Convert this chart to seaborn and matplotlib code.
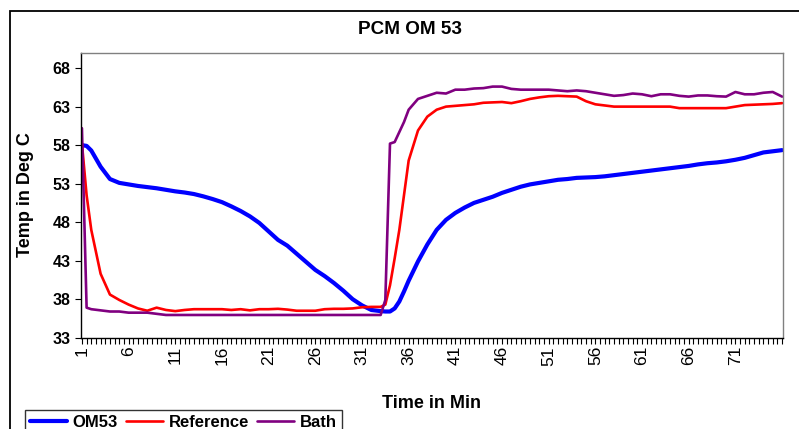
import seaborn as sns
import matplotlib.pyplot as plt
import pandas as pd
from matplotlib.patches import Rectangle
from matplotlib.ticker import MultipleLocator, FixedLocator

# time in minutes (half-minute points only where the curves change fast)
time_min = [1, 1.5] + list(range(2, 34)) + [33.5, 34, 34.5, 35, 35.5] + list(range(36, 77))

om53 = [58.0, 57.9,
        57.3, 55.2, 53.6, 53.1, 52.9, 52.7, 52.55, 52.4, 52.2, 52.0, 51.85, 51.65, 51.35, 51.0,
        50.6, 50.05, 49.45, 48.75, 47.9, 46.8, 45.7, 44.95, 43.9, 42.85, 41.8, 41.0, 40.1, 39.1,
        38.0, 37.2, 36.6, 36.45,
        36.4, 36.4, 36.8, 37.7, 39.0,
        40.4, 42.9, 45.1, 47.0, 48.3, 49.2, 49.9, 50.5, 50.9, 51.3, 51.8, 52.2, 52.6, 52.9, 53.1,
        53.3, 53.5, 53.6, 53.75, 53.8, 53.85, 53.95, 54.1, 54.25, 54.4, 54.55, 54.7, 54.85, 55.0,
        55.15, 55.3, 55.5, 55.65, 55.75, 55.9, 56.1, 56.35, 56.7, 57.05, 57.2, 57.35]

reference = [58.2, 51.5,
             47.0, 41.3, 38.6, 37.9, 37.3, 36.8, 36.5, 36.9, 36.6, 36.45, 36.6, 36.7, 36.7, 36.7,
             36.7, 36.6, 36.7, 36.55, 36.7, 36.7, 36.75, 36.65, 36.5, 36.5, 36.5, 36.7, 36.75, 36.75,
             36.8, 36.95, 37.0, 37.0,
             37.3, 39.8, 43.3, 47.0, 51.5,
             56.0, 59.9, 61.7, 62.6, 63.0, 63.1, 63.2, 63.3, 63.5, 63.55, 63.6, 63.45, 63.7, 64.0, 64.2,
             64.35, 64.4, 64.35, 64.3, 63.7, 63.3, 63.15, 63.0, 63.0, 63.0, 63.0, 63.0, 63.0, 63.0,
             62.8, 62.8, 62.8, 62.8, 62.8, 62.8, 63.0, 63.2, 63.25, 63.3, 63.35, 63.45]

bath = [60.2, 36.9,
        36.7, 36.55, 36.4, 36.4, 36.25, 36.25, 36.25, 36.1, 35.95, 35.95, 35.95, 35.95, 35.95, 35.95,
        35.95, 35.95, 35.95, 35.95, 35.95, 35.95, 35.95, 35.95, 35.95, 35.95, 35.95, 35.95, 35.95, 35.95,
        35.95, 35.95, 35.95, 35.95,
        37.9, 58.2, 58.4, 59.7, 61.0,
        62.6, 64.0, 64.4, 64.8, 64.7, 65.2, 65.2, 65.35, 65.4, 65.6, 65.6, 65.3, 65.2, 65.2, 65.2,
        65.2, 65.1, 65.0, 65.1, 65.0, 64.8, 64.6, 64.4, 64.5, 64.7, 64.6, 64.35, 64.6, 64.6,
        64.4, 64.3, 64.45, 64.45, 64.35, 64.3, 64.9, 64.6, 64.6, 64.8, 64.9, 64.3]

series_names = ['OM53', 'Reference', 'Bath']
series_colors = ['#0000FF', '#FF0000', '#800080']
series_widths = [3.0, 1.9, 1.9]
y_ticks = [33, 38, 43, 48, 53, 58, 63, 68]
x_ticks = list(range(1, 72, 5))

df = pd.DataFrame({'Time': time_min, 'OM53': om53, 'Reference': reference, 'Bath': bath})

sns.set_style('white')
plt.rcParams['font.family'] = ['Liberation Sans', 'DejaVu Sans']
plt.rcParams['text.color'] = 'black'
plt.rcParams['xtick.color'] = 'black'
plt.rcParams['ytick.color'] = 'black'

fig = plt.figure(figsize=(7.99, 4.29), dpi=100)
ax = fig.add_axes([81 / 799, 1 - 337.7 / 429, 702 / 799, 285 / 429])

for name, col, lw in zip(series_names, series_colors, series_widths):
    sns.lineplot(data=df, x='Time', y=name, color=col, linewidth=lw, label=name, ax=ax)

ax.set_xlim(0.9, 76.1)
ax.set_ylim(33, 70)
ax.set_yticks(y_ticks)
ax.set_yticklabels([str(v) for v in y_ticks], fontsize=11.5, fontweight='bold', color='black')
ax.xaxis.set_major_locator(FixedLocator(x_ticks))
ax.xaxis.set_minor_locator(MultipleLocator(0.5))
ax.set_xticklabels([str(v) for v in x_ticks], fontsize=12.5, rotation=90, color='black')
ax.tick_params(axis='both', which='both', direction='out', length=4, width=0.8,
               color='black', bottom=True, left=True)
ax.tick_params(axis='x', pad=2)

for side in ['left', 'bottom']:
    ax.spines[side].set_color('black')
    ax.spines[side].set_linewidth(1.0)
for side in ['top', 'right']:
    ax.spines[side].set_color('#808080')
    ax.spines[side].set_linewidth(1.0)

ax.set_xlabel('')
ax.set_ylabel('')
fig.text(25 / 799, 1 - 195 / 429, 'Temp in Deg C', rotation=90, fontsize=13,
         fontweight='bold', ha='center', va='center', color='black')
fig.text(432 / 799, 1 - 404 / 429, 'Time in Min', fontsize=13,
         fontweight='bold', ha='center', va='center', color='black')
fig.text(410 / 799, 1 - 29 / 429, 'PCM OM 53', fontsize=13.6,
         fontweight='bold', ha='center', va='center', color='black')

handles, labels = ax.get_legend_handles_labels()
ax.get_legend().remove()
leg = fig.legend(handles, labels, loc='upper left', bbox_to_anchor=(25 / 799, 1 - 410 / 429),
                 ncol=3, frameon=True, fancybox=False, edgecolor='black',
                 prop={'weight': 'bold', 'size': 12}, handlelength=2.2,
                 handletextpad=0.35, columnspacing=0.5, borderpad=0.3, borderaxespad=0)
leg.get_frame().set_linewidth(1.0)
for t in leg.get_texts():
    t.set_color('black')

fig.patches.append(Rectangle((10 / 799, -0.2), 1.0, 1.2 - 11 / 429, transform=fig.transFigure,
                             fill=False, edgecolor='black', linewidth=1.3))

fig.savefig('out.png', dpi=100)
